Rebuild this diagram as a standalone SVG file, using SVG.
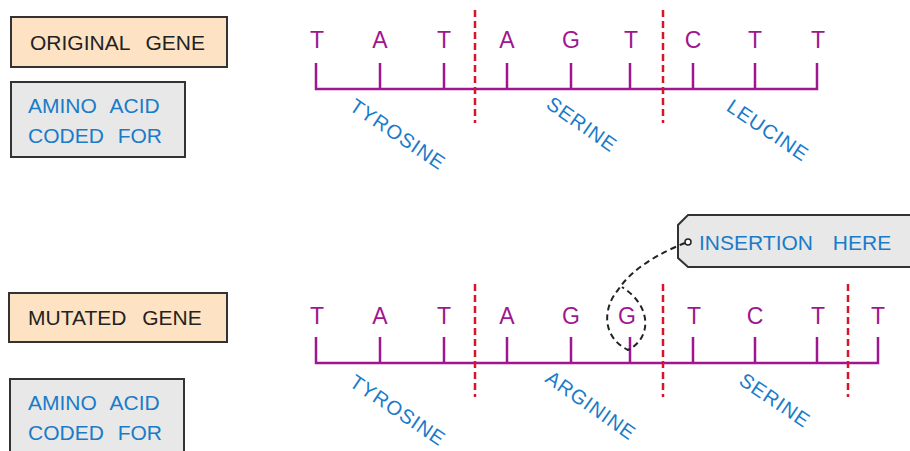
<svg xmlns="http://www.w3.org/2000/svg" width="910" height="451" viewBox="0 0 910 451">
<style>
.box{stroke:#333;stroke-width:2}
.gene{fill:#fde3c3}
.aa{fill:#e8e8e8}
.lbl{font-family:"Liberation Sans",Arial,sans-serif;font-size:21px}
.blk{fill:#222}
.blu{fill:#1a7bc9}
.base{font-family:"Liberation Sans",Arial,sans-serif;font-size:23px;fill:#a0168f;text-anchor:middle}
.strand{fill:none;stroke:#a0168f;stroke-width:2.5}
.cut{stroke:#d9142a;stroke-width:2.5;stroke-dasharray:7,4}
.amino{font-family:"Liberation Sans",Arial,sans-serif;font-size:20px;fill:#1a7bc9;text-anchor:middle;letter-spacing:1px}
</style>
<rect width="910" height="451" fill="#fff"/>

<g id="original-gene-label">
<rect class="box gene" x="11" y="17" width="216" height="50"/>
<text class="lbl blk" x="30" y="50" word-spacing="10">ORIGINAL GENE</text>
</g>
<g id="amino-acid-label-1">
<rect class="box aa" x="11" y="82" width="174" height="75"/>
<text class="lbl blu" x="28" y="113" word-spacing="8">AMINO ACID</text>
<text class="lbl blu" x="28" y="143" word-spacing="8">CODED FOR</text>
</g>
<g id="mutated-gene-label">
<rect class="box gene" x="9" y="293" width="218" height="49"/>
<text class="lbl blk" x="28" y="325" word-spacing="10">MUTATED GENE</text>
</g>
<g id="amino-acid-label-2">
<rect class="box aa" x="10" y="379" width="174" height="80"/>
<text class="lbl blu" x="28" y="410" word-spacing="8">AMINO ACID</text>
<text class="lbl blu" x="28" y="440" word-spacing="8">CODED FOR</text>
</g>

<g id="original-strand">
<path class="strand" d="M316 63V89H817V63M380 63V89M444 63V89M507 63V89M571 63V89M630 63V89M693 63V89M755 63V89"/>
<text class="base" x="317" y="48">T</text>
<text class="base" x="380" y="48">A</text>
<text class="base" x="444" y="48">T</text>
<text class="base" x="507" y="48">A</text>
<text class="base" x="571" y="48">G</text>
<text class="base" x="631" y="48">T</text>
<text class="base" x="693" y="48">C</text>
<text class="base" x="755" y="48">T</text>
<text class="base" x="818" y="48">T</text>
</g>
<g id="original-codons">
<line class="cut" x1="475" y1="10" x2="475" y2="123"/>
<line class="cut" x1="663" y1="10" x2="663" y2="123"/>
<text class="amino" transform="translate(394,140) rotate(34)">TYROSINE</text>
<text class="amino" transform="translate(578,130) rotate(35)">SERINE</text>
<text class="amino" transform="translate(764,136) rotate(34)">LEUCINE</text>
</g>

<g id="mutated-strand">
<path class="strand" d="M316 337V363H878V337M380 337V363M444 337V363M507 337V363M571 337V363M630 337V363M693 337V363M755 337V363M817 337V363"/>
<text class="base" x="317" y="324">T</text>
<text class="base" x="380" y="324">A</text>
<text class="base" x="444" y="324">T</text>
<text class="base" x="507" y="324">A</text>
<text class="base" x="571" y="324">G</text>
<text class="base" x="627" y="324">G</text>
<text class="base" x="694" y="324">T</text>
<text class="base" x="755" y="324">C</text>
<text class="base" x="818" y="324">T</text>
<text class="base" x="878" y="324">T</text>
</g>
<g id="mutated-codons">
<line class="cut" x1="475" y1="284" x2="475" y2="397"/>
<line class="cut" x1="663" y1="284" x2="663" y2="397"/>
<line class="cut" x1="848" y1="284" x2="848" y2="397"/>
<text class="amino" transform="translate(394,416) rotate(34)">TYROSINE</text>
<text class="amino" transform="translate(587,411) rotate(35)">ARGININE</text>
<text class="amino" transform="translate(771,406) rotate(34)">SERINE</text>
</g>

<g id="insertion-callout">
<path class="aa" d="M688 215H915V267H688L678 258V225Z" stroke="#333" stroke-width="2"/>
<text class="lbl blu" x="699" y="250" font-size="23" word-spacing="14">INSERTION HERE</text>
</g>

<g id="connectors">
<circle cx="688" cy="242" r="3" fill="#fff" stroke="#222" stroke-width="1.5"/>
<path d="M685 243C662 252 632 268 618 290C604 306 600 336 628 350C652 338 652 306 622 287" fill="none" stroke="#222" stroke-width="2" stroke-dasharray="6,4"/>
</g>
</svg>
